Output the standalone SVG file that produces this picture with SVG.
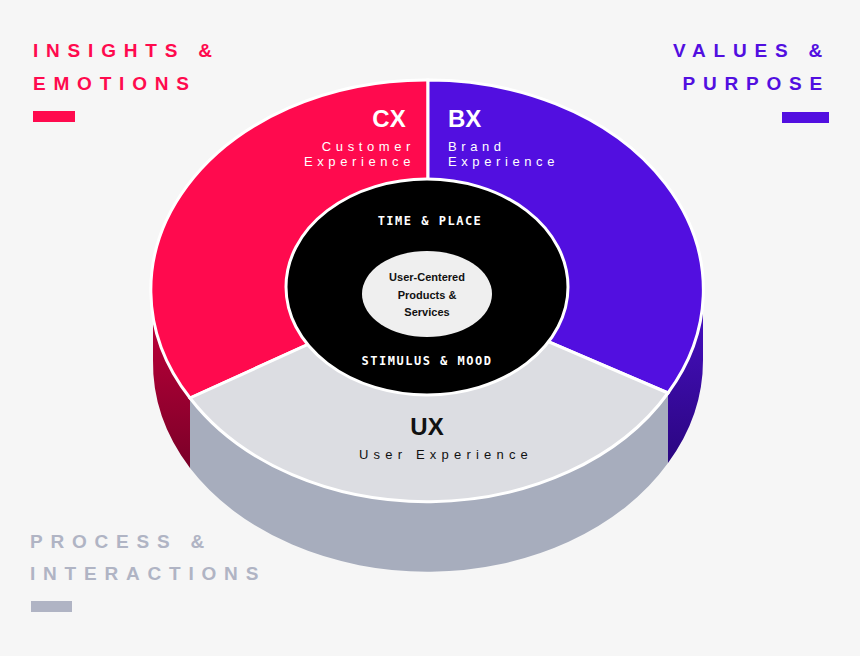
<svg xmlns="http://www.w3.org/2000/svg" width="860" height="656" viewBox="0 0 860 656">
<style>
.h{font-family:"Liberation Sans",Arial,sans-serif;font-weight:bold;font-size:19px;letter-spacing:7.8px}
.big{font-family:"Liberation Sans",Arial,sans-serif;font-weight:bold;font-size:24px;fill:#fff}
.sm{font-family:"Liberation Sans",Arial,sans-serif;font-size:13px;letter-spacing:4.6px;fill:#fff}
.in{font-family:"DejaVu Sans Mono",monospace;font-weight:bold;font-size:12px;letter-spacing:1.5px;fill:#fff}
.c{font-family:"Liberation Sans",Arial,sans-serif;font-weight:bold;font-size:11px;fill:#111}
.top{stroke:#fff;stroke-width:3}
</style>
<defs>
<linearGradient id="rs" x1="0" y1="0" x2="0" y2="1"><stop offset="0" stop-color="#c8003c"/><stop offset="1" stop-color="#7a0028"/></linearGradient>
<linearGradient id="ps" x1="0" y1="0" x2="0" y2="1"><stop offset="0" stop-color="#4a10c8"/><stop offset="1" stop-color="#2a0680"/></linearGradient>
</defs>
<rect width="860" height="656" fill="#f6f6f6"/>
<g id="labels">
<text class="h" x="33" y="57" fill="#ff0a4e">INSIGHTS &amp;</text>
<text class="h" x="33" y="90" fill="#ff0a4e">EMOTIONS</text>
<rect x="33" y="111" width="42" height="11" fill="#ff0a4e"/>
<text class="h" x="830" y="57" fill="#520fe0" text-anchor="end">VALUES &amp;</text>
<text class="h" x="830" y="90" fill="#520fe0" text-anchor="end">PURPOSE</text>
<rect x="782" y="112" width="47" height="11" fill="#520fe0"/>
<text class="h" x="30" y="548" fill="#b0b4c4">PROCESS &amp;</text>
<text class="h" x="30" y="580" fill="#b0b4c4">INTERACTIONS</text>
<rect x="31" y="601" width="41" height="11" fill="#b0b4c4"/>
</g>
<g id="sides">
<path d="M153,290 A275,210 0 0 0 190,398 L190,468 A275,210 0 0 1 153,360 Z" fill="url(#rs)"/>
<path d="M190,398 A275,210 0 0 0 668,393 L668,463 A275,210 0 0 1 190,468 Z" fill="#a7adbd"/>
<path d="M668,393 A275,210 0 0 0 703,290 L703,360 A275,210 0 0 1 668,463 Z" fill="url(#ps)"/>
</g>
<g id="cx"><path class="top" d="M428,290 L428,80 A275,210 0 0 0 190,398 Z" fill="#ff0a4e"/>
<text class="big" x="389" y="127" text-anchor="middle">CX</text>
<text class="sm" x="415" y="151" text-anchor="end">Customer</text>
<text class="sm" x="415" y="166" text-anchor="end">Experience</text></g>
<g id="bx"><path class="top" d="M428,290 L428,80 A275,210 0 0 1 668,393 Z" fill="#520fe0"/>
<text class="big" x="448" y="127">BX</text>
<text class="sm" x="448" y="151">Brand</text>
<text class="sm" x="448" y="166">Experience</text></g>
<g id="ux"><path class="top" d="M428,290 L190,398 A275,210 0 0 0 668,393 Z" fill="#dcdde2"/>
<text class="big" x="427" y="435" text-anchor="middle" style="fill:#111">UX</text>
<text class="sm" x="446" y="459" text-anchor="middle" style="fill:#111;letter-spacing:5.2px">User Experience</text></g>
<g id="core"><ellipse cx="427" cy="287" rx="141" ry="108" fill="#000" stroke="#fff" stroke-width="3"/>
<text class="in" x="430" y="225" text-anchor="middle">TIME &amp; PLACE</text>
<text class="in" x="427" y="365" text-anchor="middle">STIMULUS &amp; MOOD</text></g>
<g id="center"><ellipse cx="427" cy="294" rx="65" ry="43" fill="#efefef"/>
<text class="c" x="427" y="281" text-anchor="middle">User-Centered</text>
<text class="c" x="427" y="299" text-anchor="middle">Products &amp;</text>
<text class="c" x="427" y="316" text-anchor="middle">Services</text></g>
<g id="connectors"/>
</svg>
